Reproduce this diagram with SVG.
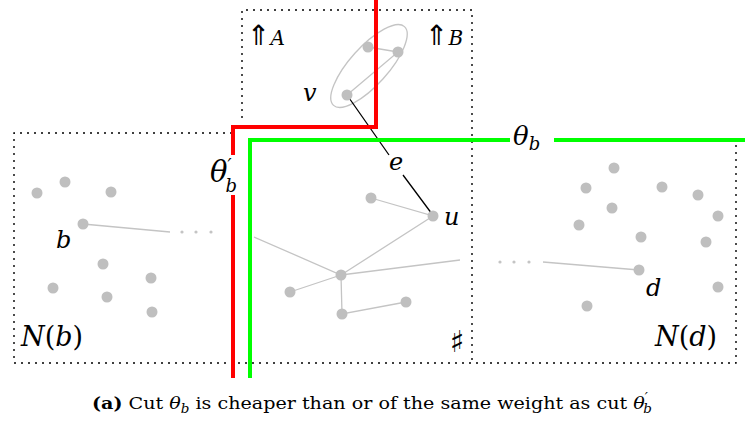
<svg xmlns="http://www.w3.org/2000/svg" width="745" height="421" viewBox="0 0 745 421">
<style>
.dot{fill:none;stroke:#000;stroke-width:1.4;stroke-dasharray:2 5}
.n{fill:#bfbfbf}
.ge{stroke:#c4c4c4;stroke-width:1.3;fill:none}
.red{stroke:#ff0000;stroke-width:4;fill:none}
.grn{stroke:#00ff00;stroke-width:4;fill:none}
</style>
<rect width="745" height="421" fill="#fff"/>
<g id="boxes">
<path class="dot" d="M242,118 V10 H472 V363"/>
<path class="dot" d="M232,133 H14 V363 H736 V140"/>
</g>
<g id="connectors">
<path class="ge" d="M368,47 L398,52 L347,95"/>
<ellipse cx="369" cy="66" rx="53" ry="19" transform="rotate(-48 369 66)" class="ge"/>
<path class="ge" d="M83,224 L170,232"/>
<g fill="#c4c4c4"><circle cx="182" cy="232" r="1.6"/><circle cx="196" cy="232" r="1.6"/><circle cx="211" cy="232" r="1.6"/>
<circle cx="500" cy="262" r="1.6"/><circle cx="514" cy="262" r="1.6"/><circle cx="529" cy="262" r="1.6"/></g>
<path class="ge" d="M371,198 L433,216 L341,275 M254,237 L341,275 L460,260 M341,275 L290,292 M341,275 L342,314 L406,302"/>
<path class="ge" d="M639,270 L543,262"/>
<path stroke="#000" stroke-width="1.3" d="M347,95 L389,155 M403,175 L432,214"/>
</g>
<g id="cuts">
<path class="red" d="M376,0 V127 H233 V155 M233,195 V378"/>
<path class="grn" d="M250,378 V140 H510 M554,140 H745"/>
</g>
<g id="nodes-top">
<circle class="n" cx="368" cy="47" r="5.5"/><circle class="n" cx="398" cy="52" r="5.5"/><circle class="n" cx="347" cy="95" r="5.5"/>
</g>
<g id="nodes-left">
<circle class="n" cx="37" cy="193" r="5.5"/><circle class="n" cx="65" cy="182" r="5.5"/><circle class="n" cx="111" cy="192" r="5.5"/>
<circle class="n" cx="83" cy="224" r="5.5"/><circle class="n" cx="103" cy="264" r="5.5"/><circle class="n" cx="53" cy="288" r="5.5"/>
<circle class="n" cx="151" cy="278" r="5.5"/><circle class="n" cx="107" cy="297" r="5.5"/><circle class="n" cx="152" cy="312" r="5.5"/>
</g>
<g id="nodes-mid">
<circle class="n" cx="371" cy="198" r="5.5"/><circle class="n" cx="433" cy="216" r="5.5"/><circle class="n" cx="341" cy="275" r="5.5"/>
<circle class="n" cx="290" cy="292" r="5.5"/><circle class="n" cx="342" cy="314" r="5.5"/><circle class="n" cx="406" cy="302" r="5.5"/>
</g>
<g id="nodes-right">
<circle class="n" cx="614" cy="168" r="5.5"/><circle class="n" cx="586" cy="188" r="5.5"/><circle class="n" cx="662" cy="187" r="5.5"/>
<circle class="n" cx="698" cy="195" r="5.5"/><circle class="n" cx="612" cy="208" r="5.5"/><circle class="n" cx="718" cy="216" r="5.5"/>
<circle class="n" cx="579" cy="225" r="5.5"/><circle class="n" cx="641" cy="237" r="5.5"/><circle class="n" cx="706" cy="242" r="5.5"/>
<circle class="n" cx="639" cy="270" r="5.5"/><circle class="n" cx="718" cy="287" r="5.5"/><circle class="n" cx="587" cy="306" r="5.5"/>
</g>
<g id="labels" font-family="DejaVu Serif, serif" fill="#000">
<g font-style="italic" font-size="24">
<text x="303" y="101">v</text>
<text x="389" y="170">e</text>
<text x="444" y="225">u</text>
<text x="56" y="248">b</text>
<text x="646" y="296">d</text>
</g>
<text x="247" y="45" font-family="DejaVu Sans, sans-serif" font-size="28">⇑<tspan font-family="DejaVu Serif, serif" font-style="italic" font-size="20">A</tspan></text>
<text x="425" y="45" font-family="DejaVu Sans, sans-serif" font-size="28">⇑<tspan font-family="DejaVu Serif, serif" font-style="italic" font-size="20">B</tspan></text>
<text x="21" y="346" font-size="27"><tspan font-style="italic">N</tspan>(<tspan font-style="italic">b</tspan>)</text>
<text x="655" y="346" font-size="27"><tspan font-style="italic">N</tspan>(<tspan font-style="italic">d</tspan>)</text>
<text x="450" y="352" font-family="DejaVu Sans, sans-serif" font-size="30">♯</text>
<text x="210" y="182" font-style="italic" font-size="29">θ<tspan font-size="18" dy="-10">′</tspan><tspan font-size="18" dx="-6" dy="20">b</tspan></text>
<text x="513" y="145" font-style="italic" font-size="26">θ<tspan font-size="18" dy="5">b</tspan></text>
<text x="92" y="409" font-size="17" textLength="560" lengthAdjust="spacingAndGlyphs"><tspan font-weight="bold">(a)</tspan> Cut <tspan font-style="italic">θ<tspan font-size="12" dy="4">b</tspan></tspan><tspan dy="-4"> is cheaper than or of the same weight as cut </tspan><tspan font-style="italic">θ<tspan font-size="12" dy="-7">′</tspan><tspan font-size="12" dx="-4" dy="11">b</tspan></tspan></text>
</g>
</svg>
